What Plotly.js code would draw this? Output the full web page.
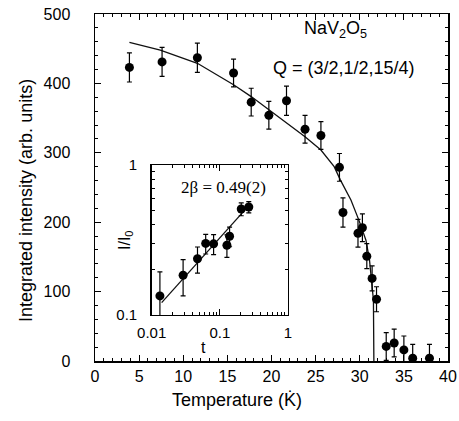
<!DOCTYPE html>
<html>
<head>
<meta charset="utf-8">
<script src="https://cdn.plot.ly/plotly-3.0.1.min.js"></script>
<style>html,body{margin:0;padding:0;background:#fff;}#chart{width:459px;height:421px;}</style>
</head>
<body>
<div id="chart"></div>
<script>
// Main panel: integrated intensity vs temperature
var temperature = [3.9, 7.6, 11.6, 15.7, 17.7, 19.7, 21.7, 23.8, 25.6, 27.7, 28.1, 29.8, 30.3, 30.8, 31.4, 31.9, 33.0, 33.9, 35.0, 36.0, 37.9];
var intensity   = [423, 431, 437, 415, 373, 354, 375, 334, 325, 279, 214, 184, 192, 151, 119, 89, 21, 26, 16, 4, 4];
var intensityErr = [21, 21, 21, 20, 20, 20, 21, 20, 20, 20, 21, 20, 20, 18, 18, 18, 20, 20, 20, 20, 20];

// Fit curve
var fitT = [3.9, 7.4, 11.6, 15.7, 17.7, 19.7, 21.7, 23.8, 25.6, 27.1, 27.8, 29.0, 29.9, 30.7, 31.1, 31.4, 31.55, 31.6];
var fitI = [459, 448, 429, 398, 381, 362, 342, 323, 304, 280, 261, 232, 203, 174, 146, 112, 88, 0];

// Inset: I/I0 vs reduced temperature t (log-log)
var insetT = [0.0132, 0.0289, 0.047, 0.062, 0.081, 0.127, 0.139, 0.206, 0.266];
var insetI = [0.134, 0.184, 0.237, 0.300, 0.298, 0.292, 0.335, 0.509, 0.525];
var insetErr = [0.06, 0.05, 0.047, 0.045, 0.045, 0.05, 0.05, 0.05, 0.045];
var insetFitT = [0.014, 0.27];
var insetFitI = [0.121, 0.54];

// Tick labels
var mainXTicks = [0, 5, 10, 15, 20, 25, 30, 35, 40];
var mainYTicks = [0, 100, 200, 300, 400, 500];
var insetXTickVals = [0.01, 0.1, 1];
var insetXTickText = ['0.01', '0.1', '1'];
var insetYTickVals = [0.1, 1];
var insetYTickText = ['0.1', '1'];

var insetXMinor = [];
var insetYMinor = [];
[0.01, 0.1].forEach(function (d) { for (var k = 2; k <= 9; k++) insetXMinor.push(+(k * d).toFixed(3)); });
for (var k = 2; k <= 9; k++) insetYMinor.push(+(k * 0.1).toFixed(2));

var FONT = 'Liberation Sans, Arial, Helvetica, sans-serif';

var traces = [
  {
    x: fitT, y: fitI, type: 'scatter', mode: 'lines',
    line: {color: '#111', width: 1.3}, xaxis: 'x', yaxis: 'y', hoverinfo: 'skip'
  },
  {
    x: temperature, y: intensity, type: 'scatter', mode: 'markers',
    marker: {color: '#000', size: 9},
    error_y: {type: 'data', array: intensityErr, visible: true, color: '#000', thickness: 1.2, width: 2.5},
    xaxis: 'x', yaxis: 'y'
  },
  {
    x: insetFitT, y: insetFitI, type: 'scatter', mode: 'lines',
    line: {color: '#111', width: 1.3}, xaxis: 'x2', yaxis: 'y2', hoverinfo: 'skip'
  },
  {
    x: insetT, y: insetI, type: 'scatter', mode: 'markers',
    marker: {color: '#000', size: 9},
    error_y: {type: 'data', array: insetErr, visible: true, color: '#000', thickness: 1.2, width: 2.5},
    xaxis: 'x2', yaxis: 'y2'
  }
];

var axisCommon = {
  showline: true, linecolor: '#000', linewidth: 1.5, mirror: 'ticks',
  ticks: 'inside', tickcolor: '#000', tickwidth: 1, showgrid: false, zeroline: false,
  tickfont: {family: FONT, size: 16, color: '#000'}
};

var layout = {
  width: 459, height: 421,
  margin: {l: 95, r: 11, t: 14, b: 60},
  paper_bgcolor: '#fff', plot_bgcolor: '#fff',
  showlegend: false,
  font: {family: FONT, color: '#000'},
  xaxis: Object.assign({}, axisCommon, {
    range: [0, 40], tickmode: 'array', tickvals: mainXTicks, ticklen: 6,
    minor: {dtick: 1, ticks: 'inside', ticklen: 3, tickcolor: '#000', tickwidth: 1},
    anchor: 'y', domain: [0, 1]
  }),
  yaxis: Object.assign({}, axisCommon, {
    range: [0, 500], tickmode: 'array', tickvals: mainYTicks, ticklen: 6,
    ticklabelstandoff: 20,
    minor: {dtick: 20, ticks: 'inside', ticklen: 3, tickcolor: '#000', tickwidth: 1},
    anchor: 'x', domain: [0, 1]
  }),
  xaxis2: Object.assign({}, axisCommon, {
    type: 'log', range: [-2, 0], tickmode: 'array', tickvals: insetXTickVals, ticktext: insetXTickText,
    ticklen: 6, ticklabelstandoff: 4,
    tickfont: {family: FONT, size: 15, color: '#000'},
    minor: {tickmode: 'array', tickvals: insetXMinor, ticks: 'inside', ticklen: 3, tickcolor: '#000', tickwidth: 1},
    anchor: 'y2', domain: [0.1606, 0.5467]
  }),
  yaxis2: Object.assign({}, axisCommon, {
    type: 'log', range: [-1, 0], tickmode: 'array', tickvals: insetYTickVals, ticktext: insetYTickText,
    ticklen: 6, ticklabelstandoff: 10,
    tickfont: {family: FONT, size: 15, color: '#000'},
    minor: {tickmode: 'array', tickvals: insetYMinor, ticks: 'inside', ticklen: 3, tickcolor: '#000', tickwidth: 1},
    anchor: 'x2', domain: [0.1326, 0.5648]
  }),
  annotations: [
    {text: 'NaV<sub>2</sub>O<sub>5</sub>', xref: 'paper', yref: 'paper', x: 0.680, y: 0.954,
     xanchor: 'center', yanchor: 'middle', showarrow: false, font: {family: FONT, size: 18, color: '#000'}},
    {text: 'Q = (3/2,1/2,15/4)', xref: 'paper', yref: 'paper', x: 0.705, y: 0.844,
     xanchor: 'center', yanchor: 'middle', showarrow: false, font: {family: FONT, size: 18, color: '#000'}},
    {text: '2β = 0.49(2)', xref: 'paper', yref: 'paper', x: 0.363, y: 0.4986,
     xanchor: 'center', yanchor: 'middle', showarrow: false, font: {family: 'Liberation Serif, Times New Roman, serif', size: 17, color: '#000'}},
    {text: 'Temperature (K̇)', xref: 'paper', yref: 'paper', x: 0.402, y: -0.1124,
     xanchor: 'center', yanchor: 'middle', showarrow: false, font: {family: FONT, size: 18, color: '#000'}},
    {text: 'Integrated intensity (arb. units)', xref: 'paper', yref: 'paper', x: -0.1955, y: 0.464,
     xanchor: 'center', yanchor: 'middle', textangle: -90, showarrow: false, font: {family: FONT, size: 18, color: '#000'}},
    {text: 'I/I<sub>0</sub>', xref: 'paper', yref: 'paper', x: 0.085, y: 0.3487,
     xanchor: 'center', yanchor: 'middle', textangle: -90, showarrow: false, font: {family: FONT, size: 16, color: '#000'}},
    {text: 't', xref: 'paper', yref: 'paper', x: 0.306, y: 0.0403,
     xanchor: 'center', yanchor: 'middle', showarrow: false, font: {family: FONT, size: 16, color: '#000'}}
  ]
};

Plotly.newPlot('chart', traces, layout, {staticPlot: true, displayModeBar: false});
</script>
</body>
</html>
